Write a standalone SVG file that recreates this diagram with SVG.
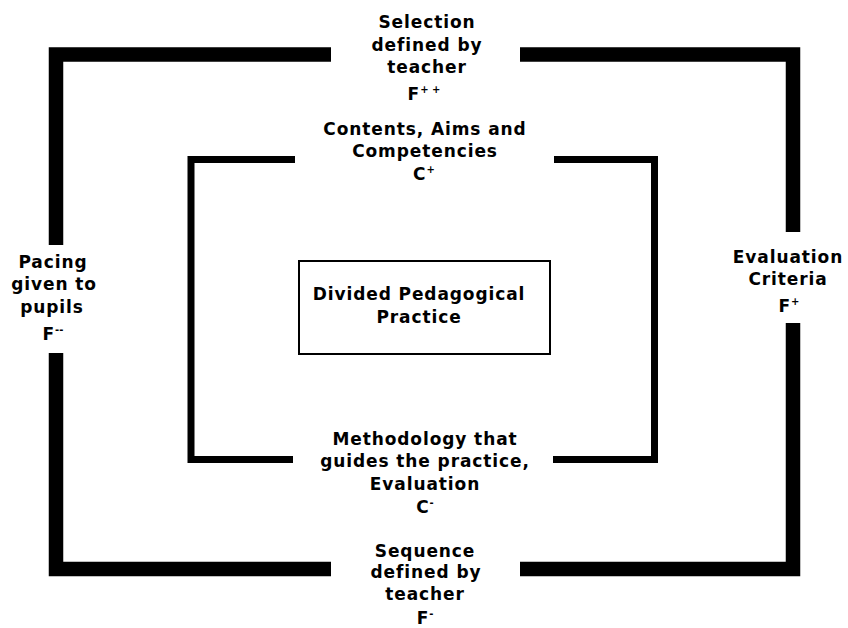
<svg xmlns="http://www.w3.org/2000/svg" width="848" height="628" viewBox="0 0 848 628">
  <style>
    .lbl { font-family: "DejaVu Sans", "Liberation Sans", sans-serif; font-weight: bold; font-size: 17px; letter-spacing: 0.9px; fill: #000; text-anchor: middle; }
    .sup { font-size: 10px; letter-spacing: 0; }
    .outer { fill: none; stroke: #000; stroke-width: 14.5; stroke-linejoin: miter; stroke-linecap: butt; }
    .inner { fill: none; stroke: #000; stroke-width: 7; stroke-linejoin: miter; stroke-linecap: butt; }
    .box { fill: #fff; stroke: #000; stroke-width: 2; }
  </style>
  <rect width="848" height="628" fill="#fff"/>

  <!-- frame connectors -->
  <g id="connectors">
    <path class="outer" d="M331,54.5 H56 V245"/>
    <path class="outer" d="M56,353 V569 H331"/>
    <path class="outer" d="M520,54.5 H793 V232"/>
    <path class="outer" d="M793,323 V569 H520"/>
    <path class="inner" d="M295,159.5 H191 V459.5 H293"/>
    <path class="inner" d="M554,159.5 H654.5 V459.5 H553"/>
  </g>

  <g id="selection">
    <text class="lbl" x="427" y="28">Selection</text>
    <text class="lbl" x="427" y="51">defined by</text>
    <text class="lbl" x="427" y="73">teacher</text>
    <text class="lbl" x="424" y="100">F<tspan class="sup" dy="-7">+ +</tspan></text>
  </g>

  <g id="contents">
    <text class="lbl" x="425" y="135">Contents, Aims and</text>
    <text class="lbl" x="425" y="157">Competencies</text>
    <text class="lbl" x="424" y="180">C<tspan class="sup" dy="-7">+</tspan></text>
  </g>

  <g id="pacing">
    <text class="lbl" x="53" y="268">Pacing</text>
    <text class="lbl" x="54" y="290">given to</text>
    <text class="lbl" x="52" y="313">pupils</text>
    <text class="lbl" x="53" y="340">F<tspan class="sup" dy="-7">--</tspan></text>
  </g>

  <g id="evaluation-criteria">
    <text class="lbl" x="788" y="263">Evaluation</text>
    <text class="lbl" x="788" y="285">Criteria</text>
    <text class="lbl" x="789" y="312">F<tspan class="sup" dy="-7">+</tspan></text>
  </g>

  <g id="practice">
    <rect class="box" x="299" y="261" width="251" height="93"/>
    <text class="lbl" x="419" y="300">Divided Pedagogical</text>
    <text class="lbl" x="419" y="323">Practice</text>
  </g>

  <g id="methodology">
    <text class="lbl" x="425" y="445">Methodology that</text>
    <text class="lbl" x="425" y="467">guides the practice,</text>
    <text class="lbl" x="425" y="490">Evaluation</text>
    <text class="lbl" x="425" y="513">C<tspan class="sup" dy="-7">-</tspan></text>
  </g>

  <g id="sequence">
    <text class="lbl" x="425" y="557">Sequence</text>
    <text class="lbl" x="426" y="578">defined by</text>
    <text class="lbl" x="425" y="600">teacher</text>
    <text class="lbl" x="425" y="624">F<tspan class="sup" dy="-7">-</tspan></text>
  </g>
</svg>
